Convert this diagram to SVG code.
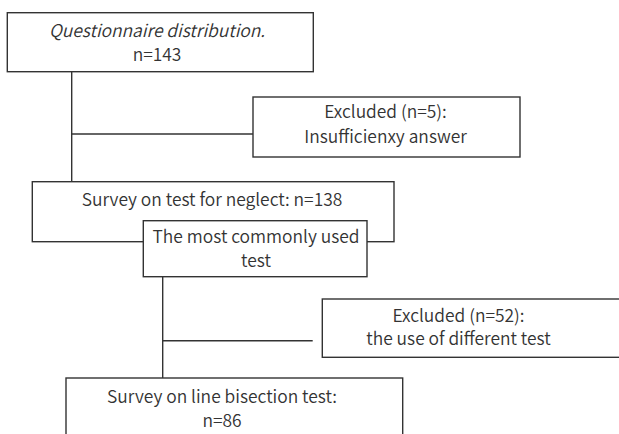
<svg xmlns="http://www.w3.org/2000/svg" width="619" height="434" viewBox="0 0 619 434">
<style>
.box{fill:#fff;stroke:#333;stroke-width:1.4}
.ln{fill:none;stroke:#333;stroke-width:1.4}
text{font-family:"Noto Sans CJK KR","Liberation Sans",sans-serif;font-size:17.4px;font-weight:350;fill:#333;text-anchor:middle}
.it{font-style:italic}
</style>
<rect width="619" height="434" fill="#fff"/>
<g id="connectors">
<line class="ln" x1="71.7" y1="71.7" x2="71.7" y2="181.7"/>
<line class="ln" x1="71.7" y1="134" x2="253" y2="134"/>
<line class="ln" x1="162.7" y1="276.7" x2="162.7" y2="378"/>
<line class="ln" x1="162.7" y1="340.7" x2="312.7" y2="340.7"/>
</g>
<g id="n1">
<rect class="box" x="7.3" y="12.7" width="306" height="59"/>
<text class="it" x="157" y="36.7">Questionnaire distribution.</text>
<text x="157" y="61">n=143</text>
</g>
<g id="n2">
<rect class="box" x="253" y="97" width="267" height="60"/>
<text x="385.5" y="118.3">Excluded (n=5):</text>
<text x="385.5" y="142.5">Insufficienxy answer</text>
</g>
<g id="n3">
<rect class="box" x="32.3" y="181.7" width="361.7" height="60"/>
<text x="212" y="205.5">Survey on test for neglect: n=138</text>
</g>
<g id="n4">
<rect class="box" x="143.3" y="220.7" width="223.7" height="56"/>
<text x="256" y="243.3">The most commonly used</text>
<text x="256" y="266.7">test</text>
</g>
<g id="n5">
<rect class="box" x="322.3" y="299" width="310" height="58.3"/>
<text x="458.5" y="321.7">Excluded (n=52):</text>
<text x="458.5" y="345">the use of different test</text>
</g>
<g id="n6">
<rect class="box" x="66" y="378" width="336.7" height="70"/>
<text x="222" y="402.7">Survey on line bisection test:</text>
<text x="222" y="426.7">n=86</text>
</g>
</svg>
